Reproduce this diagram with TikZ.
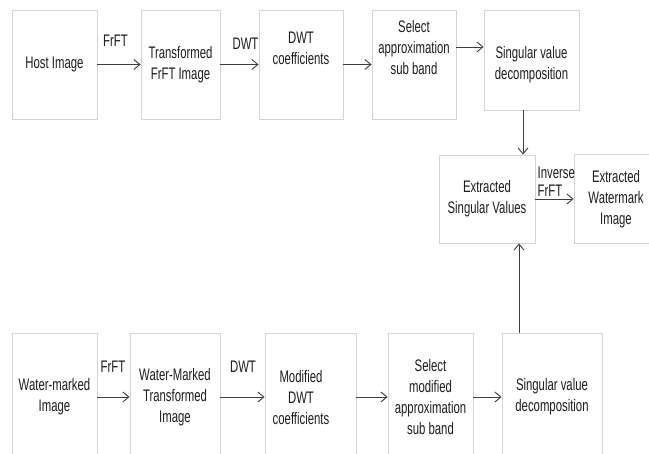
\documentclass[tikz,border=0pt]{standalone}
\usepackage{fontspec}
\setmainfont{Liberation Sans}[FakeStretch=0.68]
\usetikzlibrary{arrows.meta,positioning}
\definecolor{BoxLine}{HTML}{D4D4D4}
\definecolor{ArrowGray}{HTML}{3F3F3F}
\definecolor{TextGray}{HTML}{1E1E1E}

\begin{document}
\begin{tikzpicture}[x=1pt, y=-1pt, font=\fontsize{16.7}{21}\selectfont, >={Straight Barb[length=6pt,width=10pt]}]
\tikzset{box/.style={draw=BoxLine, line width=0.9pt, fill=white, align=center, inner sep=0pt, text=TextGray}, txt/.style={align=center, inner sep=0pt, text=TextGray}, lbl/.style={inner sep=0pt, text=TextGray}, flow/.style={->, ArrowGray, line width=0.9pt}}
\useasboundingbox (0,0) rectangle (649,454);
\clip (0,0) rectangle (649,454);
\fill[white] (0,0) rectangle (649,454);
% embedding side
\node[box, minimum width=85pt, minimum height=109pt] (host) at (54.5,64.5) {Host Image};
\node[box, minimum width=79pt, minimum height=109pt] (tfrft) at (180.5,64.5) {Transformed\\FrFT Image};
\node[box, minimum width=84pt, minimum height=109pt] (dwt) at (301,64.5) {};
\node[txt] (dwt-t) at (301,48) {DWT\\coefficients};
\node[box, minimum width=84pt, minimum height=109pt] (sel) at (414,64.5) {};
\node[txt] (sel-t) at (414,48) {Select\\approximation\\sub band};
\node[box, minimum width=95pt, minimum height=100pt] (svd) at (531.5,60) {};
\node[txt] (svd-t) at (531.5,65) {Singular value\\decomposition};
% extraction
\node[box, minimum width=96pt, minimum height=88pt] (esv) at (487,199) {Extracted\\Singular Values};
\node[box, minimum width=84pt, minimum height=89pt] (ewm) at (616,199) {Extracted\\Watermark\\Image};
% watermarked side
\node[box, minimum width=85pt, minimum height=128pt] (wm) at (54.5,397) {Water-marked\\Image};
\node[box, minimum width=90pt, minimum height=128pt] (wmt) at (175,397) {Water-Marked\\Transformed\\Image};
\node[box, minimum width=91pt, minimum height=128pt] (mdwt) at (310.5,397) {};
\node[txt] (mdwt-t) at (301,398) {Modified\\DWT\\coefficients};
\node[box, minimum width=85pt, minimum height=128pt] (msel) at (430.5,397) {Select\\modified\\approximation\\sub band};
\node[box, minimum width=100pt, minimum height=128pt] (msvd) at (552,397) {Singular value\\decomposition};
% arrows
\foreach \a/\b in {host/tfrft,tfrft/dwt,dwt/sel,esv/ewm,wm/wmt,wmt/mdwt,mdwt/msel,msel/msvd} \draw[flow] (\a) -- (\b);
\draw[flow] ([yshift=17.5pt]sel.east) -- ([yshift=17.5pt]sel.east -| svd.west);
\draw[flow] ([xshift=-8.5pt]svd.south) -- ([xshift=-8.5pt]svd.south |- esv.north);
\draw[flow] ([xshift=-33pt]msvd.north) -- ([xshift=-33pt]msvd.north |- esv.south);
% transform labels
\node[lbl] (frft-a) at (115.5,41) {FrFT};
\node[lbl] (dwt-a) at (245.5,44) {DWT};
\node[lbl] (frft-b) at (113,367) {FrFT};
\node[lbl] (dwt-b) at (243,367) {DWT};
\node[lbl, align=left, font=\fontsize{16.7}{18}\selectfont, anchor=south west] (inv) at ([xshift=2pt,yshift=2pt]esv.east) {Inverse\\FrFT};
\end{tikzpicture}
\end{document}
